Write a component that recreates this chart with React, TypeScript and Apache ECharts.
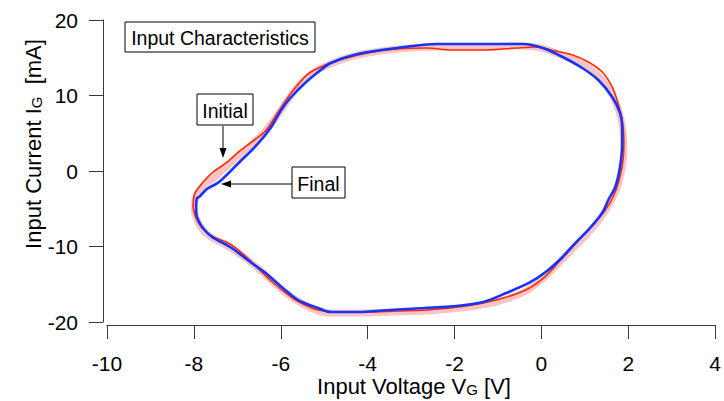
import React, { useEffect, useRef } from "react";
import * as echarts from "echarts";

// Axis ticks
const xTicks = [-10, -8, -6, -4, -2, 0, 2, 4];
const yTicks = [-20, -10, 0, 10, 20];

// Final cycle (blue): input voltage V_G [V] and input current I_G [mA]
const blueV = [-7.95, -7.93, -7.88, -7.70, -7.42, -6.97, -6.51, -6.22, -5.99, -5.76, -5.44, -5.14, -4.85, -4.23, -3.32, -2.41, -1.50, -0.42, 0.03, 0.49, 0.94, 1.31, 1.63, 1.81, 1.86, 1.86, 1.81, 1.70, 1.54, 1.40, 1.08, 0.78, 0.49, 0.10, -0.29, -0.81, -1.34, -1.95, -2.70, -3.48, -4.23, -4.85, -5.14, -5.60, -5.90, -6.35, -6.67, -7.13, -7.58, -7.81, -7.93, -7.95];
const blueI = [-4.77, -3.58, -3.44, -2.38, -1.46, 1.06, 3.71, 5.83, 8.08, 9.80, 11.66, 13.11, 14.30, 15.50, 16.29, 16.82, 16.82, 16.82, 16.29, 15.10, 13.64, 12.05, 9.80, 7.68, 5.83, 3.71, 0.53, -2.12, -3.84, -5.56, -7.81, -9.54, -11.39, -13.38, -14.83, -16.16, -17.35, -17.88, -18.15, -18.41, -18.68, -18.68, -18.15, -17.09, -15.76, -13.51, -12.19, -10.20, -8.74, -7.42, -6.09, -4.77];

// Initial cycle (red)
const redV = [-8.02, -7.99, -7.88, -7.58, -7.26, -6.97, -6.67, -6.35, -6.06, -5.76, -5.37, -5.03, -4.57, -4.00, -3.32, -2.64, -2.07, -1.27, -0.58, -0.13, 0.33, 0.72, 1.08, 1.40, 1.63, 1.76, 1.86, 1.90, 1.88, 1.79, 1.65, 1.47, 1.24, 1.01, 0.74, 0.44, 0.10, -0.36, -1.04, -1.72, -2.64, -3.32, -4.00, -4.69, -5.14, -5.49, -5.76, -6.22, -6.67, -7.13, -7.54, -7.77, -7.93, -8.02];
const redI = [-4.90, -3.18, -2.12, -0.26, 1.06, 2.52, 3.84, 5.30, 7.81, 10.33, 12.85, 13.91, 14.83, 15.63, 16.16, 16.29, 16.03, 16.03, 16.29, 16.42, 15.89, 15.36, 14.44, 13.11, 11.13, 9.01, 6.75, 4.11, 1.46, -1.19, -3.44, -5.17, -6.75, -8.21, -9.93, -11.79, -13.91, -15.76, -17.09, -17.88, -18.41, -18.54, -18.68, -18.68, -18.41, -17.62, -16.69, -14.57, -12.05, -9.80, -8.74, -7.81, -6.49, -4.90];

// Intermediate cycles (pink band)
const pinkV = [-7.99, -7.95, -7.81, -7.51, -7.13, -6.74, -6.42, -6.12, -5.87, -5.60, -5.26, -4.80, -4.23, -3.32, -2.41, -1.50, -0.58, -0.01, 0.44, 0.90, 1.29, 1.58, 1.76, 1.86, 1.90, 1.86, 1.74, 1.58, 1.33, 1.01, 0.69, 0.40, 0.05, -0.40, -1.04, -1.84, -2.64, -3.43, -4.23, -4.92, -5.26, -5.65, -5.99, -6.40, -6.85, -7.31, -7.65, -7.86, -7.97, -7.99];
const pinkI = [-4.77, -3.31, -2.12, -0.79, 1.19, 3.18, 4.90, 7.02, 9.14, 11.26, 12.98, 14.30, 15.36, 16.16, 16.42, 16.42, 16.56, 16.29, 15.36, 14.30, 12.72, 10.60, 8.34, 6.09, 3.44, 0.40, -2.25, -4.24, -6.49, -8.61, -10.46, -12.19, -14.17, -16.03, -17.35, -18.15, -18.54, -18.68, -18.81, -18.81, -18.28, -17.09, -15.63, -13.51, -11.39, -9.67, -8.61, -7.28, -5.83, -4.77];

const zip = (a: number[], b: number[]) => a.map((v, i) => [v, b[i]]);

const FONT = "'Liberation Sans', Arial, Helvetica, sans-serif";
const AXIS_COLOR = "#3a3a3a";

export default function App() {
  const ref = useRef<HTMLDivElement>(null);

  useEffect(() => {
    if (!ref.current) return;
    const chart = echarts.init(ref.current, null, { renderer: "svg" });

    const titleRich = {
      a: { fontSize: 22, fontFamily: FONT, color: "#000", lineHeight: 20, verticalAlign: "bottom" },
      s: { fontSize: 15, fontFamily: FONT, color: "#000", lineHeight: 8, verticalAlign: "bottom" },
    };

    const boxText = (x: number, y: number, w: number, h: number, text: string) => [
      {
        type: "rect",
        shape: { x, y, width: w, height: h },
        style: { fill: "#fff", stroke: "#000", lineWidth: 1 },
        z: 10,
      },
      {
        type: "text",
        x: x + w / 2,
        y: y + h / 2 + 1,
        style: { text, fontSize: 19.5, fontFamily: FONT, fill: "#000", align: "center", verticalAlign: "middle" },
        z: 11,
      },
    ];

    chart.setOption({
      animation: false,
      backgroundColor: "#fff",
      grid: { left: 107, right: 3, top: 20, bottom: 79, containLabel: false },
      xAxis: {
        type: "value",
        min: xTicks[0],
        max: xTicks[xTicks.length - 1],
        interval: 2,
        offset: 3,
        axisLine: { show: true, onZero: false, lineStyle: { color: AXIS_COLOR, width: 1 } },
        axisTick: { show: true, length: 14, lineStyle: { color: AXIS_COLOR } },
        axisLabel: { fontSize: 21, lineHeight: 18, fontFamily: FONT, color: "#000", margin: 29 },
        splitLine: { show: false },
      },
      yAxis: {
        type: "value",
        min: yTicks[0],
        max: yTicks[yTicks.length - 1],
        interval: 10,
        offset: 4,
        axisLine: { show: true, onZero: false, lineStyle: { color: AXIS_COLOR, width: 1 } },
        axisTick: { show: true, length: 14, lineStyle: { color: AXIS_COLOR } },
        axisLabel: { fontSize: 21, fontFamily: FONT, color: "#000", margin: 25 },
        splitLine: { show: false },
      },
      series: [
        {
          type: "line",
          data: zip(pinkV, pinkI),
          showSymbol: false,
          smooth: 0.3,
          lineStyle: { color: "#fbc4c4", width: 7, join: "round" },
          z: 1,
        },
        {
          type: "line",
          data: zip(redV, redI),
          showSymbol: false,
          smooth: 0.3,
          lineStyle: { color: "#ff2a00", width: 1.6 },
          z: 2,
        },
        {
          type: "line",
          data: zip(blueV, blueI),
          showSymbol: false,
          smooth: 0.3,
          lineStyle: { color: "#1434ff", width: 2.6 },
          z: 3,
        },
      ],
      graphic: [
        {
          type: "text",
          x: 414,
          y: 387,
          style: {
            text: "{a|Input Voltage V}{s|G}{a| [V]}",
            rich: titleRich,
            align: "center",
            verticalAlign: "middle",
          },
        },
        {
          type: "text",
          x: 34,
          y: 144,
          rotation: Math.PI / 2,
          style: {
            text: "{a|Input Current I}{s|G}{a|  [mA]}",
            rich: titleRich,
            align: "center",
            verticalAlign: "middle",
          },
        },
        ...boxText(125, 22, 190, 30, "Input Characteristics"),
        ...boxText(197, 94, 56, 31, "Initial"),
        ...boxText(292, 167, 53, 31, "Final"),
        {
          type: "line",
          shape: { x1: 223, y1: 126, x2: 223, y2: 150 },
          style: { stroke: "#000", lineWidth: 1 },
          z: 10,
        },
        {
          type: "polygon",
          shape: { points: [[219.5, 148], [226.5, 148], [223, 158]] },
          style: { fill: "#000" },
          z: 10,
        },
        {
          type: "line",
          shape: { x1: 292, y1: 184, x2: 229, y2: 184 },
          style: { stroke: "#000", lineWidth: 1 },
          z: 10,
        },
        {
          type: "polygon",
          shape: { points: [[231, 180.5], [231, 187.5], [221, 184]] },
          style: { fill: "#000" },
          z: 10,
        },
      ],
    });

    return () => chart.dispose();
  }, []);

  return <div ref={ref} style={{ width: 724, height: 401, position: "absolute", left: 0, top: 0 }} />;
}
